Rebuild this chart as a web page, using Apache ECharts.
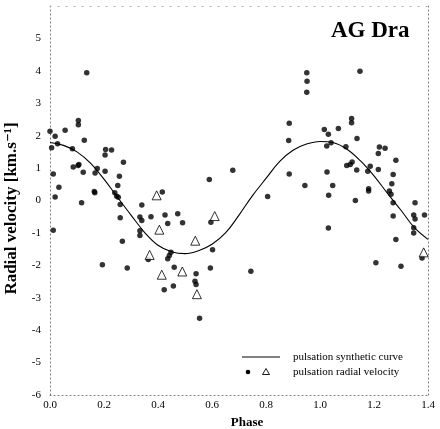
<!DOCTYPE html>
<html><head><meta charset="utf-8">
<script src="https://cdn.jsdelivr.net/npm/echarts@6/dist/echarts.min.js"></script>
<style>html,body{margin:0;padding:0;background:#fff}#c{width:440px;height:429px}</style>
</head><body><div id="c"></div>
<script>
// x-axis ticks and y-axis ticks
const xTicks = [0.0, 0.2, 0.4, 0.6, 0.8, 1.0, 1.2, 1.4];
const yTicks = [-6, -5, -4, -3, -2, -1, 0, 1, 2, 3, 4, 5, 6];
// pulsation synthetic curve: [phase, velocity]
const curvePhase = [0.00,0.05,0.10,0.15,0.20,0.25,0.30,0.35,0.40,0.45,0.50,0.55,0.60,0.65,0.70,0.75,0.80,0.85,0.90,0.95,1.00,1.05,1.10,1.15,1.20,1.25,1.30,1.35,1.40];
const curveVel   = [1.79,1.70,1.50,1.15,0.66,0.10,-0.45,-0.98,-1.38,-1.58,-1.64,-1.55,-1.35,-1.00,-0.45,0.15,0.68,1.20,1.55,1.74,1.82,1.78,1.58,1.22,0.76,0.22,-0.30,-0.84,-1.20];
// radial velocity measurements (dots)
const dotPhase = [0.136,0.105,0.105,0.000,0.056,0.019,0.006,0.028,0.127,0.083,0.206,0.228,0.204,0.272,0.086,0.104,0.107,0.175,0.204,0.167,0.123,0.012,0.257,0.251,0.033,0.164,0.166,0.240,0.247,0.253,0.019,0.117,0.260,0.340,0.416,0.260,0.333,0.340,0.374,0.426,0.473,0.436,0.491,0.333,0.333,0.012,0.268,0.364,0.448,0.442,0.436,0.194,0.286,0.460,0.457,0.423,0.596,0.602,0.594,0.541,0.537,0.541,0.554,0.677,0.590,0.806,0.744,0.886,0.884,0.886,0.951,0.952,0.951,0.944,1.148,1.016,1.031,1.068,1.117,1.117,1.041,1.025,1.137,1.096,1.220,1.241,1.216,1.281,1.119,1.112,1.099,1.186,1.216,1.136,1.177,1.026,1.271,1.266,1.047,1.180,1.180,1.257,1.263,1.032,1.131,1.271,1.352,1.271,1.347,1.352,1.387,1.347,1.347,1.031,1.281,1.378,1.207,1.300];
const dotVel   = [3.94,2.47,2.34,2.14,2.17,1.98,1.63,1.75,1.86,1.60,1.57,1.56,1.40,1.18,1.03,1.08,1.11,0.99,0.90,0.85,0.87,0.82,0.75,0.46,0.41,0.28,0.24,0.24,0.13,0.10,0.11,-0.07,-0.12,-0.14,0.26,-0.53,-0.51,-0.62,-0.50,-0.45,-0.41,-0.71,-0.69,-0.93,-1.08,-0.92,-1.26,-1.82,-1.60,-1.70,-1.80,-1.98,-2.08,-2.06,-2.64,-2.75,-0.67,-1.52,-2.08,-2.26,-2.49,-2.59,-3.63,0.93,0.65,0.12,-2.18,2.38,1.85,0.82,3.94,3.68,3.34,0.46,3.99,2.19,2.04,2.22,2.53,2.40,1.78,1.68,1.91,1.66,1.65,1.61,1.45,1.24,1.19,1.11,1.08,1.06,0.96,0.94,0.90,0.88,0.80,0.52,0.46,0.36,0.29,0.29,0.19,0.16,0.00,-0.07,-0.07,-0.48,-0.45,-0.57,-0.45,-0.84,-1.00,-0.85,-1.20,-1.77,-1.92,-2.03];
// radial velocity measurements (triangles)
const triPhase = [0.395,0.405,0.369,0.414,0.490,0.538,0.610,0.544,1.407,1.384];
const triVel   = [0.16,-0.90,-1.68,-2.29,-2.19,-1.24,-0.48,-2.89,0.23,-1.60];

const zip = (a, b) => a.map((v, i) => [v, b[i]]);
const serif = '"Liberation Serif","DejaVu Serif",serif';
const chart = echarts.init(document.getElementById('c'), null, {renderer: 'canvas'});
const dotted = {color: '#777', width: 1, type: [1, 3]};
const faint = {color: '#aaa', width: 1, type: [1, 7]};
chart.setOption({
  animation: false,
  backgroundColor: '#fff',
  title: {text: 'AG Dra', left: 331, top: 20, padding: 0,
    textStyle: {fontFamily: serif, fontSize: 23, fontWeight: 'bold', color: '#000'}},
  grid: {left: 50, right: 12, top: 6, bottom: 34, containLabel: false, outerBoundsMode: 'none'},
  xAxis: [{
    type: 'value', min: xTicks[0], max: xTicks[xTicks.length - 1], interval: 0.2,
    name: 'Phase', nameLocation: 'middle', nameGap: 20,
    nameTextStyle: {fontFamily: serif, fontSize: 13, fontWeight: 'bold', color: '#000', padding: [0, 0, 0, 16]},
    axisLine: {show: true, onZero: false, lineStyle: dotted}, axisTick: {show: false}, splitLine: {show: false},
    axisLabel: {fontFamily: serif, fontSize: 11, color: '#000', margin: 5, formatter: v => v.toFixed(1)}
  }, {
    type: 'value', position: 'top', min: xTicks[0], max: xTicks[xTicks.length - 1],
    axisLine: {show: true, onZero: false, lineStyle: faint}, axisTick: {show: false}, axisLabel: {show: false}, splitLine: {show: false}
  }],
  yAxis: [{
    type: 'value', min: yTicks[0], max: yTicks[yTicks.length - 1], interval: 1,
    name: 'Radial velocity [km.s\u207B\u00B9]', nameLocation: 'middle', nameGap: 30,
    nameTextStyle: {fontFamily: serif, fontSize: 17, fontWeight: 'bold', color: '#000', padding: [0, 16, 0, 0]},
    axisLine: {show: true, onZero: false, lineStyle: dotted}, axisTick: {show: false}, splitLine: {show: false},
    axisLabel: {fontFamily: serif, fontSize: 11, color: '#000', margin: 9, showMaxLabel: false}
  }, {
    type: 'value', position: 'right', min: yTicks[0], max: yTicks[yTicks.length - 1],
    axisLine: {show: true, onZero: false, lineStyle: dotted}, axisTick: {show: false}, axisLabel: {show: false}, splitLine: {show: false}
  }],
  graphic: [
    {type: 'line', shape: {x1: 242, y1: 357, x2: 280, y2: 357}, style: {stroke: '#000', lineWidth: 1}},
    {type: 'text', x: 293, y: 357, style: {text: 'pulsation synthetic curve', font: '11px ' + serif, fill: '#000', verticalAlign: 'middle'}},
    {type: 'circle', shape: {cx: 248, cy: 372, r: 2.3}, style: {fill: '#000'}},
    {type: 'polygon', shape: {points: [[266, 368.5], [262.5, 374.5], [269.5, 374.5]]}, style: {fill: '#fff', stroke: '#000', lineWidth: 0.9}},
    {type: 'text', x: 293, y: 372, style: {text: 'pulsation radial velocity', font: '11px ' + serif, fill: '#000', verticalAlign: 'middle'}}
  ],
  series: [
    {type: 'line', data: zip(curvePhase, curveVel), smooth: 0.4, showSymbol: false, symbol: 'none',
      lineStyle: {color: '#000', width: 1.1}, z: 2},
    {type: 'scatter', data: zip(dotPhase, dotVel), symbol: 'circle', symbolSize: 5.5,
      itemStyle: {color: '#000'}, z: 3},
    {type: 'scatter', data: zip(triPhase, triVel), symbol: 'triangle', symbolSize: 9,
      itemStyle: {color: '#fff', borderColor: '#000', borderWidth: 1}, z: 4}
  ]
});
</script></body></html>
